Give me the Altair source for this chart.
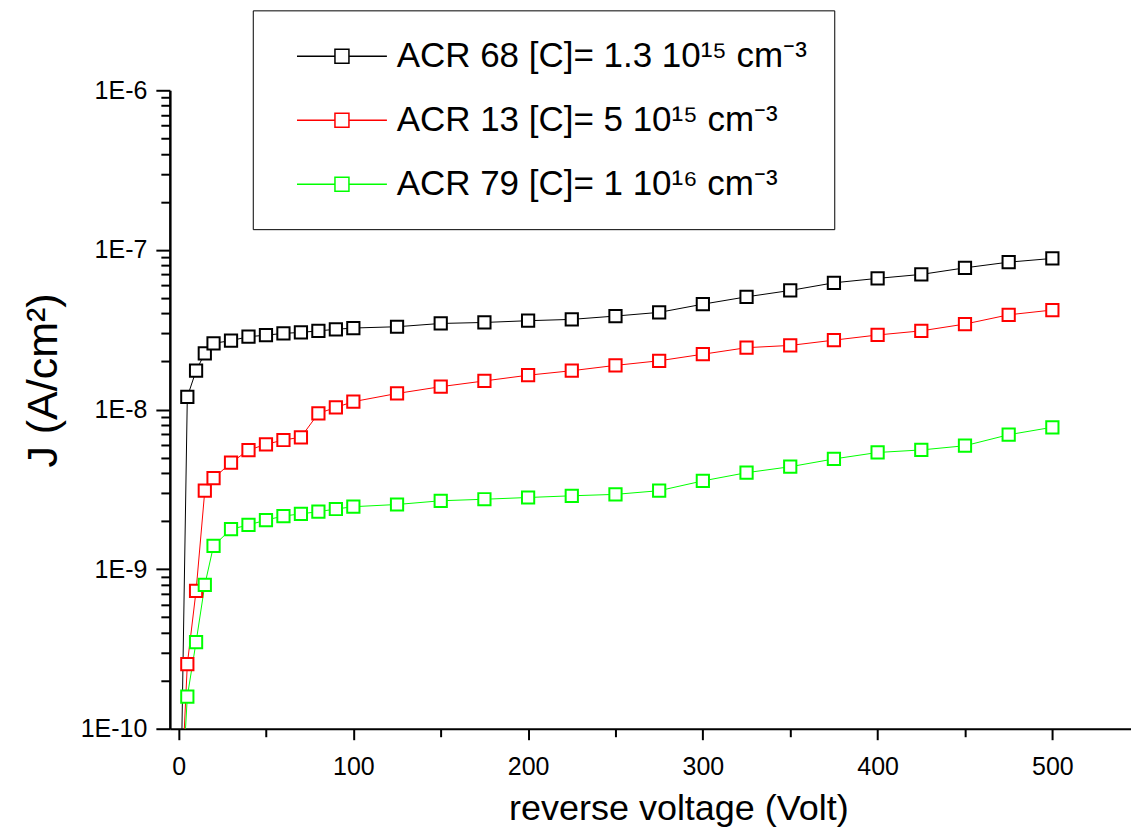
import altair as alt
import pandas as pd

# ---- data ----
voltage = [0, 5, 10, 15, 20, 30, 40, 50, 60, 70, 80, 90, 100, 125, 150, 175,
           200, 225, 250, 275, 300, 325, 350, 375, 400, 425, 450, 475, 500]

acr68 = [5e-12, 1.20e-8, 1.75e-8, 2.25e-8, 2.60e-8, 2.70e-8, 2.86e-8, 2.92e-8,
         3.00e-8, 3.04e-8, 3.11e-8, 3.18e-8, 3.24e-8, 3.30e-8, 3.46e-8, 3.51e-8,
         3.60e-8, 3.67e-8, 3.85e-8, 4.06e-8, 4.57e-8, 5.08e-8, 5.57e-8, 6.22e-8,
         6.63e-8, 7.02e-8, 7.72e-8, 8.38e-8, 8.84e-8]
acr13 = [1.7e-11, 2.54e-10, 7.31e-10, 3.10e-9, 3.71e-9, 4.64e-9, 5.57e-9, 6.05e-9,
         6.44e-9, 6.70e-9, 9.46e-9, 1.03e-8, 1.12e-8, 1.26e-8, 1.39e-8, 1.51e-8,
         1.64e-8, 1.75e-8, 1.89e-8, 2.02e-8, 2.22e-8, 2.44e-8, 2.52e-8, 2.72e-8,
         2.93e-8, 3.11e-8, 3.43e-8, 3.92e-8, 4.20e-8]
acr79 = [1.7e-11, 1.59e-10, 3.49e-10, 7.96e-10, 1.40e-9, 1.78e-9, 1.89e-9, 2.03e-9,
         2.15e-9, 2.22e-9, 2.29e-9, 2.38e-9, 2.46e-9, 2.54e-9, 2.68e-9, 2.74e-9,
         2.81e-9, 2.88e-9, 2.94e-9, 3.10e-9, 3.57e-9, 4.02e-9, 4.38e-9, 4.90e-9,
         5.38e-9, 5.58e-9, 5.93e-9, 6.95e-9, 7.74e-9]

series_names = [
    "ACR 68 [C]= 1.3 10\u00b9\u2075 cm\u207b\u00b3",
    "ACR 13 [C]= 5 10\u00b9\u2075 cm\u207b\u00b3",
    "ACR 79 [C]= 1 10\u00b9\u2076 cm\u207b\u00b3",
]
series_colors = ["#000000", "#ff0000", "#00ff00"]

x_major_ticks = [0, 100, 200, 300, 400, 500]
x_minor_ticks = [50, 150, 250, 350, 450]
y_major_ticks = [1e-10, 1e-9, 1e-8, 1e-7, 1e-6]
y_minor_ticks = [m * 10.0 ** e for e in range(-10, -6) for m in range(2, 10)]

# ---- long table ----
rows = []
for name, vals in zip(series_names, [acr68, acr13, acr79]):
    for v, j in zip(voltage, vals):
        rows.append({"V": v, "J": j, "series": name})
df = pd.DataFrame(rows)

FONT = "Liberation Sans"

x_scale = alt.Scale(domain=[-5, 545], nice=False, zero=False)
y_scale = alt.Scale(type="log", domain=[1e-10, 1e-6], nice=False)

x_major_axis = alt.Axis(
    orient="bottom", values=x_major_ticks, format="d",
    tickSize=11, tickWidth=2, tickColor="black",
    domainWidth=2, domainColor="black",
    labelFontSize=25, labelColor="black", labelFont=FONT,
    labelPadding=15, grid=False,
    title="reverse voltage (Volt)",
    titleFontSize=36, titleFont=FONT, titleFontWeight="normal", titleColor="black",
    titleX=509, titleY=91, titleBaseline="alphabetic", titleAlign="center",
)
x_minor_axis = alt.Axis(
    orient="bottom", values=x_minor_ticks, labels=False, domain=False,
    tickSize=8, tickWidth=2, tickColor="black", grid=False, title=None,
)
y_major_axis = alt.Axis(
    orient="left", values=y_major_ticks,
    labelExpr="'1E' + round(log(datum.value)/LN10)",
    tickSize=14, tickWidth=2, tickColor="black",
    domainWidth=2.5, domainColor="black",
    labelFontSize=25, labelColor="black", labelFont=FONT,
    labelPadding=9, grid=False,
    title="J (A/cm\u00b2)",
    titleFontSize=43, titleFont=FONT, titleFontWeight="normal", titleColor="black",
    titleX=-113, titleY=290, titleBaseline="alphabetic", titleAngle=270,
    titleAlign="center",
)
y_minor_axis = alt.Axis(
    orient="left", values=y_minor_ticks, labels=False, domain=False,
    tickSize=9, tickWidth=2, tickColor="black", grid=False, title=None,
)

# legend symbol: line with a hollow square, drawn to the right of the symbol slot
legend_symbol = ("M-0.097,0H2.014M2.792,0H4.903"
                 "M2.014,-0.389H2.792V0.389H2.014Z")

lines = alt.Chart(df).mark_line(strokeWidth=1, clip=True).encode(
    x=alt.X("V:Q", scale=x_scale, axis=x_major_axis),
    y=alt.Y("J:Q", scale=y_scale, axis=y_major_axis),
    color=alt.Color(
        "series:N",
        scale=alt.Scale(domain=series_names, range=series_colors),
        legend=alt.Legend(
            title=None, orient="none", legendX=83, legendY=-80,
            symbolType=legend_symbol, symbolSize=1296, symbolStrokeWidth=1.5,
            symbolFillColor="white",
            labelFontSize=35, labelFont=FONT, labelColor="black",
            labelOffset=79, labelLimit=1000,
            padding=27, rowPadding=27,
            strokeColor="black", fillColor="white",
        ),
    ),
    order="V:Q",
)

points = alt.Chart(df).mark_point(
    shape="square", filled=True, fill="white", size=150, strokeWidth=2,
    opacity=1, clip=True,
).encode(
    x=alt.X("V:Q", axis=x_minor_axis),
    y=alt.Y("J:Q", axis=y_minor_axis),
    stroke=alt.Stroke("series:N",
                      scale=alt.Scale(domain=series_names, range=series_colors),
                      legend=None),
)

chart = alt.layer(lines, points).resolve_axis(
    x="independent", y="independent"
).properties(
    width=962, height=639,
    autosize=alt.AutoSizeParams(type="none"),
    padding={"left": 170, "top": 90, "right": 0, "bottom": 99},
    background="white",
).configure(font=FONT).configure_view(stroke=None)

chart.save("out.html", embed_options={"renderer": "svg", "actions": False})
